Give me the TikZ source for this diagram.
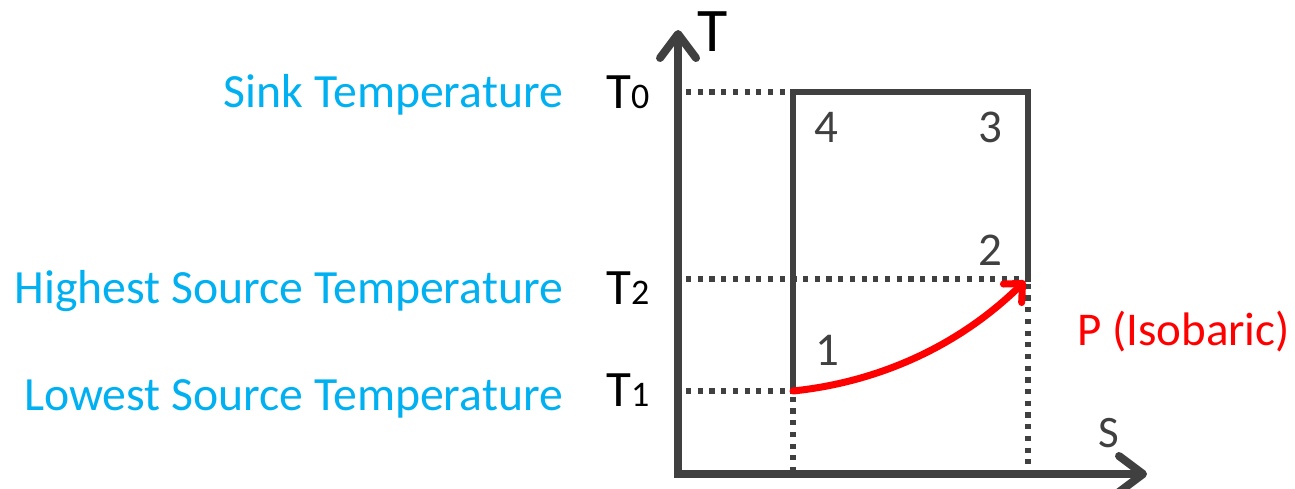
\documentclass[tikz,border=0pt]{standalone}
\usepackage{fontspec}
\setmainfont{Carlito}
\usetikzlibrary{arrows.meta}
\definecolor{axgray}{HTML}{404040}
\definecolor{skyblue}{HTML}{00B0F0}
\definecolor{isored}{HTML}{FF0000}
\begin{document}
\begin{tikzpicture}[x=1pt,y=-1pt,
  axis/.style={draw=axgray,line width=8pt,-{Straight Barb[length=24pt,width=36pt,line cap=round,line join=round]}},
  cycle/.style={draw=axgray,line width=5.5pt,line cap=rect},
  guide/.style={draw=axgray,line width=5.5pt,dash pattern=on 5.2pt off 6.5pt},
  bluelbl/.style={text=skyblue,inner sep=0pt,anchor=base east,font=\fontsize{47.7}{56}\selectfont},
  tlbl/.style={text=black,inner sep=0pt,anchor=base west,font=\fontsize{51}{60}\selectfont},
  numlbl/.style={text=axgray,inner sep=0pt,anchor=base,font=\fontsize{47}{56}\selectfont}]
\useasboundingbox (0,0) rectangle (1295,489);
% key points
\coordinate (O) at (678,474);
\coordinate (ytip) at (678,30);
\coordinate (xtip) at (1147,474);
\coordinate (p1) at (793,391);
\coordinate (p2) at (1028,279);
\coordinate (p3) at (1028,92);
\coordinate (p4) at (793,92);
\coordinate (a0) at (686,92);
\coordinate (a2) at (686,279);
\coordinate (a1) at (686,391);
\coordinate (b1) at (793,470);
\coordinate (b2) at (1028,470);
% guides
\draw[guide] (a0) -- (p4);
\draw[guide] (a2) -- (p2);
\draw[guide] (a1) -- (p1);
\draw[guide] ([yshift=6]p1) -- (b1);
\draw[guide] ([yshift=7]p2) -- (b2);
% cycle
\draw[cycle] (p1) -- (p4) -- (p3) -- (p2);
% axes
\draw[axis] (O) -- (ytip);
\draw[axis] ([xshift=-4]O) -- (xtip);
% isobaric curve
\draw[isored,line width=7pt,line cap=round,-{Straight Barb[length=14pt,width=26pt,line cap=round,line join=round]}]
  (p1) .. controls (880,382) and (960,345) .. ([shift={(-3,2)}]p2);
% labels
\node[text=black,inner sep=0pt,anchor=base,font=\fontsize{62}{70}\selectfont] (tax) at (713,52) {T};
\node[text=axgray,inner sep=0pt,anchor=base,font=\fontsize{45}{54}\selectfont] (sax) at (1109,447) {S};
\node[tlbl] (t0) at (606,109) {T\fontsize{36}{40}\selectfont 0};
\node[tlbl] (t2) at (606,304) {T\fontsize{36}{40}\selectfont 2};
\node[tlbl] (t1) at (606,406) {T\fontsize{36}{40}\selectfont 1};
\node[bluelbl] (sink) at (563,108) {Sink Temperature};
\node[bluelbl] (high) at (563,303) {Highest Source Temperature};
\node[bluelbl] (low) at (563,410) {Lowest Source Temperature};
\node[numlbl] (n4) at (826,143) {4};
\node[numlbl] (n3) at (990,143) {3};
\node[numlbl] (n2) at (990,265) {2};
\node[numlbl] (n1) at (827,365) {1};
\node[text=isored,inner sep=0pt,anchor=base west,font=\fontsize{47}{56}\selectfont] (iso) at (1077,345) {P (Isobaric)};
\end{tikzpicture}
\end{document}
